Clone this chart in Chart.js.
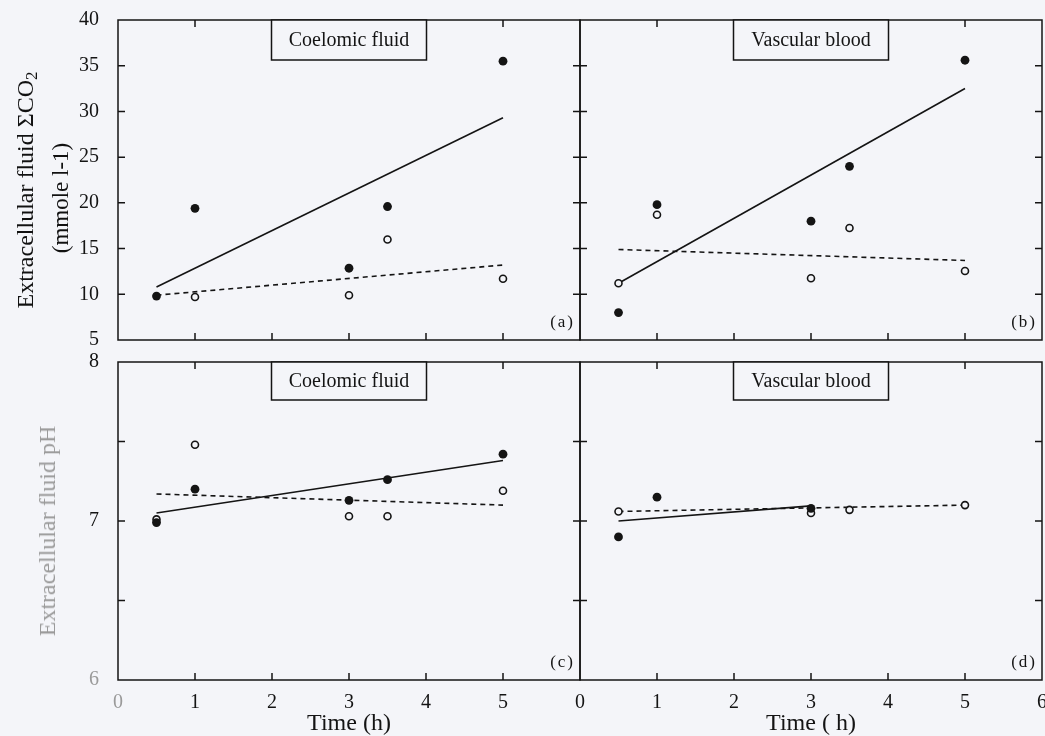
<!DOCTYPE html>
<html><head><meta charset="utf-8">
<script src="https://cdn.jsdelivr.net/npm/chart.js@4"></script>
<style>
html,body{margin:0;padding:0;width:1045px;height:736px;overflow:hidden;background:#f4f5f9;}
canvas{position:absolute;left:0;top:-40px;}
.yt{position:absolute;font-family:"Liberation Serif",serif;color:#111;white-space:nowrap;transform:translate(-50%,-50%) rotate(-90deg);line-height:1;}
.yt sub{font-size:0.7em;vertical-align:-0.25em;}
</style></head><body>
<canvas id="pa" width="1100" height="800"></canvas>
<canvas id="pb" width="1100" height="800"></canvas>
<canvas id="pc" width="1100" height="800"></canvas>
<canvas id="pd" width="1100" height="800"></canvas>
<div class="yt" style="left:27px;top:190px;font-size:24px">Extracellular fluid ΣCO<sub>2</sub></div>
<div class="yt" style="left:60px;top:198px;font-size:23px">(mmole l-1)</div>
<div class="yt" style="left:47px;top:531px;font-size:24px;color:#9a9a9a">Extracellular fluid pH</div>
<script>
// ---- data ----
const timeH = [0.5, 1, 3, 3.5, 5];
const co2CoelomicFilled = [9.8, 19.4, 12.85, 19.6, 35.5];
const co2CoelomicOpen   = [null, 9.7, 9.9, 16.0, 11.7];
const co2VascularFilled = [8.0, 19.8, 18.0, 24.0, 35.6];
const co2VascularOpen   = [11.2, 18.7, 11.75, 17.25, 12.55];
const phCoelomicFilled  = [6.99, 7.20, 7.13, 7.26, 7.42];
const phCoelomicOpen    = [7.01, 7.48, 7.03, 7.03, 7.19];
const phVascularFilled  = [6.90, 7.15, 7.08, null, null];
const phVascularOpen    = [7.06, null, 7.05, 7.07, 7.10];
// regression lines: [x0, y0, x1, y1]
const co2CoelomicFitFilled = [0.5, 10.8, 5, 29.3];
const co2CoelomicFitOpen   = [0.5, 9.9, 5, 13.2];
const co2VascularFitFilled = [0.5, 11.2, 5, 32.5];
const co2VascularFitOpen   = [0.5, 14.9, 5, 13.7];
const phCoelomicFitFilled  = [0.5, 7.05, 5, 7.38];
const phCoelomicFitOpen    = [0.5, 7.17, 5, 7.10];
const phVascularFitFilled  = [0.5, 7.00, 3, 7.095];
const phVascularFitOpen    = [0.5, 7.06, 5, 7.10];
// ticks
const xTickValues = [1, 2, 3, 4, 5];
const co2TickValues = [10, 15, 20, 25, 30, 35];
const phTickValues = [6.5, 7, 7.5];
const panelTitles = ['Coelomic fluid', 'Vascular blood', 'Coelomic fluid', 'Vascular blood'];
const panelLetters = ['(a)', '(b)', '(c)', '(d)'];
const xTitles = ['Time (h)', 'Time ( h)'];

const BG = '#f4f5f9', INK = '#141414', GRAY = '#9a9a9a';
const FAM = '"Liberation Serif", "Times New Roman", serif';
Chart.defaults.font.family = FAM;

const frame = {
  id: 'panelFrame',
  afterDatasetsDraw(chart, args, o) {
    const {ctx, chartArea: a, scales: {x, y}} = chart;
    ctx.save();
    ctx.strokeStyle = INK; ctx.lineWidth = 1.5;
    ctx.beginPath();
    o.xTicks.forEach(v => { const px = x.getPixelForValue(v);
      ctx.moveTo(px, a.top); ctx.lineTo(px, a.top + 7);
      ctx.moveTo(px, a.bottom); ctx.lineTo(px, a.bottom - 7); });
    o.yTicks.forEach(v => { const py = y.getPixelForValue(v);
      ctx.moveTo(a.left, py); ctx.lineTo(a.left + 7, py);
      ctx.moveTo(a.right, py); ctx.lineTo(a.right - 7, py); });
    ctx.stroke();
    ctx.strokeRect(a.left, a.top, a.right - a.left, a.bottom - a.top);
    // title box
    const cx = (a.left + a.right) / 2, w = 155, h = o.boxH;
    ctx.fillStyle = BG;
    ctx.fillRect(cx - w / 2, a.top, w, h);
    ctx.strokeRect(cx - w / 2, a.top, w, h);
    ctx.fillStyle = INK;
    ctx.font = '20px ' + FAM;
    ctx.textAlign = 'center'; ctx.textBaseline = 'middle';
    ctx.fillText(o.title, cx, a.top + h / 2 + 1);
    // panel letter
    ctx.font = '17px ' + FAM;
    ctx.letterSpacing = '2px';
    ctx.textAlign = 'right';
    ctx.fillText(o.letter, a.right - 5, a.bottom - 17);
    ctx.restore();
  }
};

function pts(vals) { return timeH.map((t, i) => ({x: t, y: vals[i]})).filter(p => p.y !== null); }
function seg(f) { return [{x: f[0], y: f[1]}, {x: f[2], y: f[3]}]; }

function panel(id, p) {
  new Chart(document.getElementById(id), {
    type: 'scatter',
    data: { datasets: [
      {data: pts(p.filled), backgroundColor: INK, borderColor: INK, borderWidth: 0, pointRadius: 4.4},
      {data: pts(p.open), backgroundColor: BG, borderColor: INK, borderWidth: 1.6, pointRadius: 3.5},
      {data: seg(p.fitFilled), showLine: true, borderColor: INK, borderWidth: 1.6, pointRadius: 0},
      {data: seg(p.fitOpen), showLine: true, borderColor: INK, borderWidth: 1.6, borderDash: [5, 4], pointRadius: 0}
    ]},
    options: {
      responsive: false, animation: false, devicePixelRatio: 1,
      layout: {padding: p.pad},
      plugins: {legend: {display: false}, tooltip: {enabled: false},
        panelFrame: {xTicks: xTickValues, yTicks: p.yTicks, title: p.title, letter: p.letter, boxH: p.boxH}},
      scales: {
        x: {type: 'linear', min: 0, max: 6, display: p.showX,
          grid: {display: false}, border: {display: false},
          ticks: {stepSize: 1, padding: 3, font: {size: 20},
            color: c => (p.grayZero && c.tick && c.tick.value === 0) ? GRAY : INK,
            callback: v => (p.hideSix && v === 6) ? '' : String(v)},
          title: {display: true, text: p.xTitle, font: {size: 24}, color: INK, padding: 0},
          afterFit: s => { s.height = p.showX ? 58 : 0; }},
        y: {type: 'linear', min: p.yMin, max: p.yMax, display: p.showY,
          grid: {display: false}, border: {display: false},
          ticks: {stepSize: p.yStep, padding: 11, font: {size: 20},
            color: c => (p.graySix && c.tick && c.tick.value === 6) ? GRAY : INK,
            callback: v => Number.isInteger(v) ? String(v) : ''},
          afterFit: s => { s.width = p.showY ? 60 : 0; }}
      }
    },
    plugins: [frame]
  });
}

// canvases start 40px above the page, so top paddings include that offset
panel('pa', {filled: co2CoelomicFilled, open: co2CoelomicOpen, fitFilled: co2CoelomicFitFilled, fitOpen: co2CoelomicFitOpen,
  yMin: 5, yMax: 40, yStep: 5, yTicks: co2TickValues, showX: false, showY: true, title: panelTitles[0], letter: panelLetters[0],
  boxH: 40, pad: {left: 58, top: 60, right: 520, bottom: 420}});
panel('pb', {filled: co2VascularFilled, open: co2VascularOpen, fitFilled: co2VascularFitFilled, fitOpen: co2VascularFitOpen,
  yMin: 5, yMax: 40, yStep: 5, yTicks: co2TickValues, showX: false, showY: false, title: panelTitles[1], letter: panelLetters[1],
  boxH: 40, pad: {left: 580, top: 60, right: 58, bottom: 420}});
panel('pc', {filled: phCoelomicFilled, open: phCoelomicOpen, fitFilled: phCoelomicFitFilled, fitOpen: phCoelomicFitOpen,
  yMin: 6, yMax: 8, yStep: 0.5, yTicks: phTickValues, showX: true, showY: true, title: panelTitles[2], letter: panelLetters[2],
  boxH: 38, xTitle: xTitles[0], hideSix: true, grayZero: true, graySix: true, pad: {left: 58, top: 402, right: 520, bottom: 22}});
panel('pd', {filled: phVascularFilled, open: phVascularOpen, fitFilled: phVascularFitFilled, fitOpen: phVascularFitOpen,
  yMin: 6, yMax: 8, yStep: 0.5, yTicks: phTickValues, showX: true, showY: false, title: panelTitles[3], letter: panelLetters[3],
  boxH: 38, xTitle: xTitles[1], pad: {left: 580, top: 402, right: 58, bottom: 22}});
</script>
</body></html>
